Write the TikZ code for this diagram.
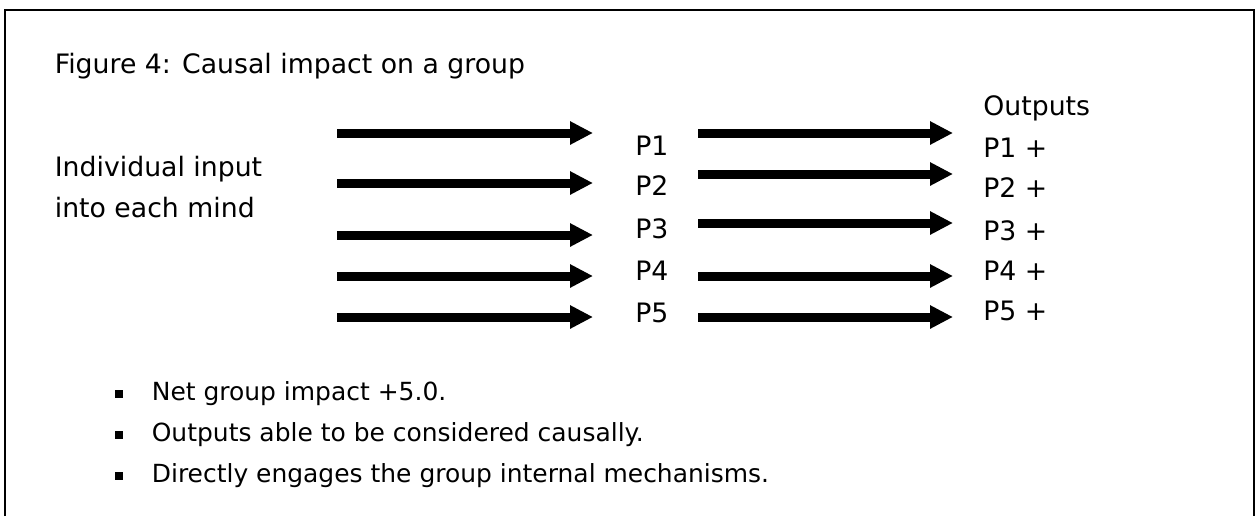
\documentclass[tikz,border=0pt]{standalone}
\usepackage{fontspec}
\setmainfont{DejaVu Sans}
\usetikzlibrary{arrows.meta}

\tikzset{
  txt/.style={anchor=base west,inner sep=0pt,font=\fontsize{15.2}{18}\selectfont},
  point/.style={txt,font=\fontsize{14.2}{17}\selectfont},
  fat/.style={line width=0.18cm,-{Triangle[length=0.46cm,width=0.44cm]}},
  sq/.style={fill=black,inner sep=0pt,minimum size=0.16cm}
}

\begin{document}
\begin{tikzpicture}
        \useasboundingbox (0,0) rectangle (25.12,10.32);
        % frame, open at the bottom
        \draw[line width=0.04cm] (0.1,0) -- (0.1,10.12) -- (25.08,10.12) -- (25.08,0);
        \node[txt] (title) at (1.09,8.86) {Figure 4: Causal impact on a group};
        \node[txt] (inp1) at (1.09,6.80) {Individual input};
        \node[txt] (inp2) at (1.09,5.98) {into each mind};
        % the group members
        \node[txt] (p1) at (12.70,7.22) {P1};
        \node[txt] (p2) at (12.70,6.42) {P2};
        \node[txt] (p3) at (12.70,5.56) {P3};
        \node[txt] (p4) at (12.70,4.72) {P4};
        \node[txt] (p5) at (12.70,3.88) {P5};
        % outputs
        \node[txt] (out) at (19.66,8.02) {Outputs};
        \node[txt] (q1) at (19.66,7.18) {P1 +};
        \node[txt] (q2) at (19.66,6.38) {P2 +};
        \node[txt] (q3) at (19.66,5.52) {P3 +};
        \node[txt] (q4) at (19.66,4.72) {P4 +};
        \node[txt] (q5) at (19.66,3.92) {P5 +};
        % inputs into each mind
        \coordinate (in1) at (6.74,7.66);
        \coordinate (in2) at (6.74,6.66);
        \coordinate (in3) at (6.74,5.62);
        \coordinate (in4) at (6.74,4.80);
        \coordinate (in5) at (6.74,3.98);
        \draw[fat,shorten >=0.84cm] (in1) -- (in1 -| p1.west);
        \draw[fat,shorten >=0.84cm] (in2) -- (in2 -| p2.west);
        \draw[fat,shorten >=0.84cm] (in3) -- (in3 -| p3.west);
        \draw[fat,shorten >=0.84cm] (in4) -- (in4 -| p4.west);
        \draw[fat,shorten >=0.84cm] (in5) -- (in5 -| p5.west);
        % from each mind to its output
        \coordinate (mid1) at (13.96,7.66);
        \coordinate (mid2) at (13.96,6.84);
        \coordinate (mid3) at (13.96,5.86);
        \coordinate (mid4) at (13.96,4.80);
        \coordinate (mid5) at (13.96,3.98);
        \draw[fat,shorten >=0.60cm] (mid1) -- (mid1 -| q1.west);
        \draw[fat,shorten >=0.60cm] (mid2) -- (mid2 -| q2.west);
        \draw[fat,shorten >=0.60cm] (mid3) -- (mid3 -| q3.west);
        \draw[fat,shorten >=0.60cm] (mid4) -- (mid4 -| q4.west);
        \draw[fat,shorten >=0.60cm] (mid5) -- (mid5 -| q5.west);
        % summary points
        \node[sq] (b1) at (2.38,2.44) {};
        \node[sq] (b2) at (2.38,1.62) {};
        \node[sq] (b3) at (2.38,0.80) {};
        \node[point] (t1) at (3.03,2.32) {Net group impact +5.0.};
        \node[point] (t2) at (3.03,1.50) {Outputs able to be considered causally.};
        \node[point] (t3) at (3.03,0.68) {Directly engages the group internal mechanisms.};
\end{tikzpicture}
\end{document}
